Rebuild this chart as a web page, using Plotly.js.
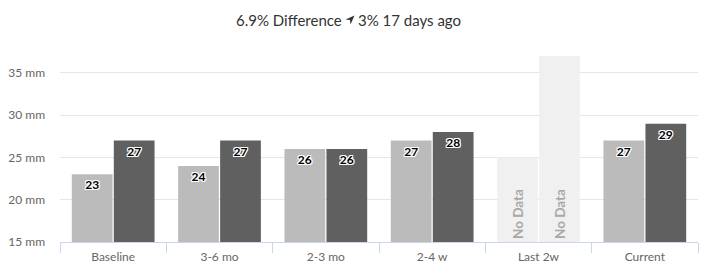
<!DOCTYPE html>
<html>
<head>
<meta charset="utf-8">
<script src="https://cdn.plot.ly/plotly-3.0.1.min.js"></script>
<style>html,body{margin:0;padding:0;background:#fff;}#chart{width:706px;height:277px;}</style>
</head>
<body>
<div id="chart"></div>
<script>
const categories = ["Baseline", "3-6 mo", "2-3 mo", "2-4 w", "Last 2w", "Current"];
const seriesA = [23, 24, 26, 27, null, 27];
const seriesB = [27, 27, 26, 28, null, 29];
const noDataCategory = ["Last 2w"];
const noDataA = [25];
const noDataB = [37];
const noDataLabel = ["No Data"];
const yTicks = [15, 20, 25, 30, 35];
const yTickText = yTicks.map(v => v + " mm");
const yRange = [15, 37];
const titleLeft = "6.9% Difference";
const titleRight = "3% 17 days ago";
const axisMin = yRange[0];

const FONT = "Lato, 'Noto Sans', sans-serif";
const outline = "1px 1px 0 #fff, -1px -1px 0 #fff, 1px -1px 0 #fff, -1px 1px 0 #fff, 0 1px 0 #fff, 0 -1px 0 #fff, 1px 0 0 #fff, -1px 0 0 #fff";
const labelFont = {family: FONT, size: 12, color: "#000", weight: 700, shadow: outline};

function valueTrace(vals, color, group) {
  return {
    type: "bar", x: categories, y: vals, offsetgroup: group,
    marker: {color: color, line: {width: 0}},
    text: vals.map(v => v == null ? "" : String(v)),
    textposition: "inside", insidetextanchor: "end", textangle: 0,
    textfont: labelFont, hoverinfo: "none", cliponaxis: false
  };
}
function noDataTrace(vals, group) {
  return {
    type: "bar", x: noDataCategory, y: vals.map(v => v - axisMin), base: axisMin, offsetgroup: group,
    marker: {color: "#f0f0f0", line: {width: 0}},
    text: noDataLabel, textposition: "inside", insidetextanchor: "start", textangle: -90,
    constraintext: "none",
    textfont: {family: FONT, size: 13.5, color: "#a8a8a8", weight: 700}, hoverinfo: "none"
  };
}

const data = [
  valueTrace(seriesA, "#bbbbbb", "a"),
  valueTrace(seriesB, "#606060", "b"),
  noDataTrace(noDataA, "a"),
  noDataTrace(noDataB, "b")
];

const L = 60, R = 8, T = 56, B = 35, W = 706, H = 277;
const pw = W - L - R, ph = H - T - B;
const px = x => (x - L) / pw;
const py = y => 1 + (T - y) / ph;

const layout = {
  width: W, height: H,
  margin: {l: L, r: R, t: T, b: B, pad: 0},
  paper_bgcolor: "#fff", plot_bgcolor: "#fff",
  barmode: "group", bargap: 0.21, bargroupgap: 0.03,
  showlegend: false,
  font: {family: FONT, color: "#666", size: 12},
  xaxis: {
    type: "category", showgrid: false, zeroline: false,
    showline: true, linecolor: "#ccd6eb", linewidth: 1,
    ticks: "outside", tickson: "boundaries", ticklen: 10, tickcolor: "#ccd6eb", tickwidth: 1,
    tickfont: {family: FONT, size: 12, color: "#666"},
    ticklabelstandoff: 4, fixedrange: true
  },
  yaxis: {
    range: yRange, tickvals: yTicks, ticktext: yTickText,
    showgrid: true, gridcolor: "#e6e6e6", gridwidth: 1, zeroline: false,
    showline: false, ticks: "", ticklabelstandoff: 14,
    tickfont: {family: FONT, size: 12, color: "#666"}, fixedrange: true
  },
  annotations: [
    {xref: "paper", yref: "paper", x: px(344), y: py(20), xanchor: "right", yanchor: "middle",
     text: titleLeft, showarrow: false, font: {family: FONT, size: 15, color: "#333"}},
    {xref: "paper", yref: "paper", x: px(356), y: py(20), xanchor: "left", yanchor: "middle",
     text: titleRight, showarrow: false, font: {family: FONT, size: 15, color: "#333"}}
  ],
  shapes: [
    {type: "path", xref: "paper", yref: "paper", xsizemode: "pixel", ysizemode: "pixel",
     xanchor: px(350), yanchor: py(20),
     path: "M 4.5 4.5 L -4.5 0.5 L 0 0 L 0.5 -4.5 Z",
     fillcolor: "#333", line: {width: 0}, layer: "above"}
  ]
};

Plotly.newPlot("chart", data, layout, {displayModeBar: false, staticPlot: true});
</script>
</body>
</html>
